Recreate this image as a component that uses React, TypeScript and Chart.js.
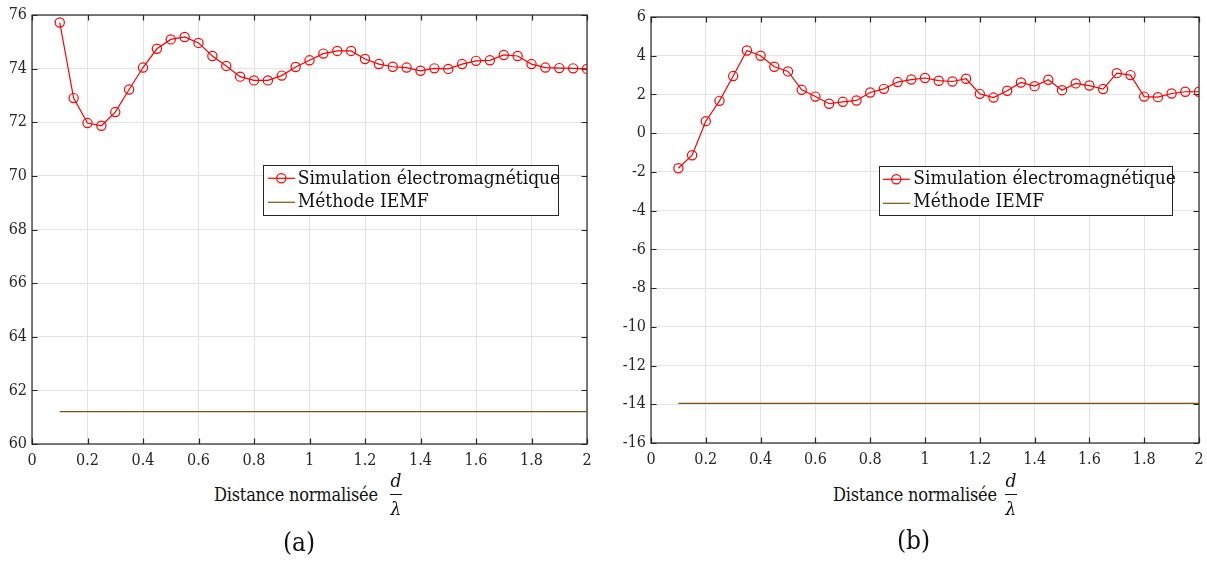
import React, { useEffect, useRef } from "react";
import { Chart, registerables } from "chart.js";

Chart.register(...registerables);

// ---------- data ----------
const distances = [
  0.1, 0.15, 0.2, 0.25, 0.3, 0.35, 0.4, 0.45, 0.5, 0.55, 0.6, 0.65, 0.7, 0.75, 0.8,
  0.85, 0.9, 0.95, 1.0, 1.05, 1.1, 1.15, 1.2, 1.25, 1.3, 1.35, 1.4, 1.45, 1.5, 1.55,
  1.6, 1.65, 1.7, 1.75, 1.8, 1.85, 1.9, 1.95, 2.0,
];

const simulationA = [
  75.72, 72.9, 71.97, 71.87, 72.38, 73.22, 74.04, 74.74, 75.09, 75.18, 74.96, 74.47,
  74.1, 73.7, 73.56, 73.56, 73.74, 74.06, 74.31, 74.56, 74.66, 74.66, 74.36, 74.17,
  74.07, 74.04, 73.92, 74.01, 73.99, 74.17, 74.29, 74.31, 74.51, 74.47, 74.17, 74.04,
  74.02, 74.01, 73.99,
];

const simulationB = [
  -1.81, -1.14, 0.62, 1.67, 2.95, 4.27, 4.0, 3.43, 3.19, 2.24, 1.89, 1.52, 1.62, 1.69,
  2.1, 2.29, 2.64, 2.77, 2.85, 2.71, 2.67, 2.81, 2.03, 1.84, 2.19, 2.62, 2.43, 2.76,
  2.22, 2.57, 2.46, 2.28, 3.1, 3.0, 1.89, 1.86, 2.05, 2.14, 2.14,
];

const iemfDistances = [0.1, 2.0];
const iemfA = [61.21, 61.21];
const iemfB = [-13.95, -13.95];

const seriesLabels = ["Simulation électromagnétique", "Méthode IEMF"];
const xTitle = "Distance normalisée";
const captions = ["(a)", "(b)"];

// ---------- styling ----------
const RED = "#ff0000";
const BROWN = "#7d5212";
const AXIS = "#262626";
const GRID = "#e3e3e3";
const SERIF = "'DejaVu Serif Condensed', 'DejaVu Serif', serif";

const boxPlugin = {
  id: "matlabBox",
  beforeDatasetsDraw(chart: any) {
    const { ctx, chartArea: a, scales } = chart;
    const tl = 5.5;
    ctx.save();
    ctx.strokeStyle = AXIS;
    ctx.lineWidth = 1.2;
    ctx.beginPath();
    scales.x.ticks.forEach((t: any) => {
      const px = Math.round(scales.x.getPixelForValue(t.value)) + 0.5;
      ctx.moveTo(px, a.bottom);
      ctx.lineTo(px, a.bottom - tl);
      ctx.moveTo(px, a.top);
      ctx.lineTo(px, a.top + tl);
    });
    scales.y.ticks.forEach((t: any) => {
      const py = Math.round(scales.y.getPixelForValue(t.value)) + 0.5;
      ctx.moveTo(a.left, py);
      ctx.lineTo(a.left + tl, py);
      ctx.moveTo(a.right, py);
      ctx.lineTo(a.right - tl, py);
    });
    ctx.stroke();
    ctx.strokeRect(a.left, a.top, a.right - a.left, a.bottom - a.top);
    ctx.restore();
  },
};

type PanelProps = {
  left: number;
  width: number;
  height: number;
  area: { left: number; top: number; right: number; bottom: number };
  sim: number[];
  iemf: number[];
  yMin: number;
  yMax: number;
};

function Panel({ left, width, height, area, sim, iemf, yMin, yMax }: PanelProps) {
  const ref = useRef<HTMLCanvasElement | null>(null);
  useEffect(() => {
    if (!ref.current) return;
    const chart = new Chart(ref.current, {
      type: "line",
      data: {
        datasets: [
          {
            label: seriesLabels[0],
            data: distances.map((d, i) => ({ x: d, y: sim[i] })),
            borderColor: RED,
            borderWidth: 1.2,
            pointStyle: "circle",
            pointRadius: 4.6,
            pointBorderWidth: 1.2,
            pointBorderColor: RED,
            pointBackgroundColor: "rgba(0,0,0,0)",
            tension: 0,
          },
          {
            label: seriesLabels[1],
            data: iemfDistances.map((d, i) => ({ x: d, y: iemf[i] })),
            borderColor: BROWN,
            borderWidth: 1.2,
            pointRadius: 0,
            tension: 0,
          },
        ],
      },
      options: {
        animation: false,
        responsive: false,
        maintainAspectRatio: false,
        layout: {
          padding: { left: 0, top: area.top, right: width - area.right, bottom: 0 },
        },
        plugins: { legend: { display: false }, tooltip: { enabled: false } },
        scales: {
          x: {
            type: "linear",
            min: 0,
            max: 2,
            ticks: {
              stepSize: 0.2,
              color: AXIS,
              padding: 7,
              maxRotation: 0,
              font: { family: SERIF, size: 16 },
              callback: (v: any) => String(Math.round(Number(v) * 10) / 10),
            },
            grid: { color: GRID, lineWidth: 1, drawTicks: false },
            border: { display: false },
            afterFit: (s: any) => {
              s.height = height - area.bottom;
              s.paddingLeft = 0;
              s.paddingRight = 0;
            },
          },
          y: {
            type: "linear",
            min: yMin,
            max: yMax,
            ticks: {
              stepSize: 2,
              color: AXIS,
              padding: 5,
              font: { family: SERIF, size: 16 },
            },
            grid: { color: GRID, lineWidth: 1, drawTicks: false },
            border: { display: false },
            afterFit: (s: any) => {
              s.width = area.left;
              s.paddingTop = 0;
              s.paddingBottom = 0;
            },
          },
        },
      },
      plugins: [boxPlugin],
    } as any);
    return () => chart.destroy();
  }, []);
  return (
    <canvas
      ref={ref}
      width={width}
      height={height}
      style={{ position: "absolute", left, top: 0, width, height }}
    />
  );
}

function Legend({ x, y, w, h, symX, textX }: { x: number; y: number; w: number; h: number; symX: number; textX: number }) {
  const text: React.CSSProperties = {
    position: "absolute",
    left: textX - x - 1,
    fontFamily: SERIF,
    fontSize: 19,
    lineHeight: "20px",
    color: "#111",
    whiteSpace: "nowrap",
  };
  return (
    <div
      style={{
        position: "absolute",
        left: x,
        top: y,
        width: w,
        height: h,
        boxSizing: "border-box",
        border: `1px solid ${AXIS}`,
        background: "#fff",
      }}
    >
      <svg
        width={30}
        height={40}
        style={{ position: "absolute", left: symX - x - 1, top: 0 }}
      >
        <line x1={0} y1={12.3} x2={27} y2={12.3} stroke={RED} strokeWidth={1.2} />
        <circle cx={13.3} cy={12.3} r={4.6} fill="none" stroke={RED} strokeWidth={1.2} />
        <line x1={0} y1={36.3} x2={27} y2={36.3} stroke={BROWN} strokeWidth={1.2} />
      </svg>
      <div style={{ ...text, top: 166.5 - y - 1 }}>{seriesLabels[0]}</div>
      <div style={{ ...text, top: 190 - y - 1 }}>{seriesLabels[1]}</div>
    </div>
  );
}

function XTitle({ cx, fracX }: { cx: number; fracX: number }) {
  const base: React.CSSProperties = {
    position: "absolute",
    fontFamily: SERIF,
    fontSize: 18,
    lineHeight: "20px",
    color: "#111",
    whiteSpace: "nowrap",
  };
  return (
    <>
      <div style={{ ...base, left: cx, top: 485, letterSpacing: "-0.2px" }}>{xTitle}</div>
      <div style={{ ...base, fontSize: 19, left: fracX - 10, width: 20, textAlign: "center", top: 470, fontStyle: "italic" }}>d</div>
      <div style={{ position: "absolute", left: fracX - 6, top: 494, width: 12, height: 1, background: "#111" }} />
      <div style={{ ...base, fontSize: 19, left: fracX - 10, width: 20, textAlign: "center", top: 498, fontStyle: "italic" }}>λ</div>
    </>
  );
}

export default function App() {
  const caption: React.CSSProperties = {
    position: "absolute",
    fontFamily: SERIF,
    fontSize: 26,
    lineHeight: "26px",
    color: "#111",
    width: 60,
    textAlign: "center",
  };
  return (
    <div
      style={{
        position: "fixed",
        left: 0,
        top: 0,
        width: 1207,
        height: 563,
        background: "#fff",
        overflow: "hidden",
      }}
    >
      <Panel
        left={0}
        width={600}
        height={480}
        area={{ left: 32, top: 15, right: 587, bottom: 444 }}
        sim={simulationA}
        iemf={iemfA}
        yMin={60}
        yMax={76}
      />
      <Panel
        left={603}
        width={604}
        height={480}
        area={{ left: 48, top: 17, right: 596, bottom: 443 }}
        sim={simulationB}
        iemf={iemfB}
        yMin={-16}
        yMax={6}
      />
      <Legend x={263} y={165} w={296} h={51} symX={267.7} textX={297.7} />
      <Legend x={879} y={166} w={294} h={50} symX={883.3} textX={913.3} />
      <XTitle cx={214} fracX={396} />
      <XTitle cx={833} fracX={1011} />
      <div style={{ ...caption, left: 299 - 30, top: 529 }}>{captions[0]}</div>
      <div style={{ ...caption, left: 913.5 - 30, top: 527 }}>{captions[1]}</div>
    </div>
  );
}
